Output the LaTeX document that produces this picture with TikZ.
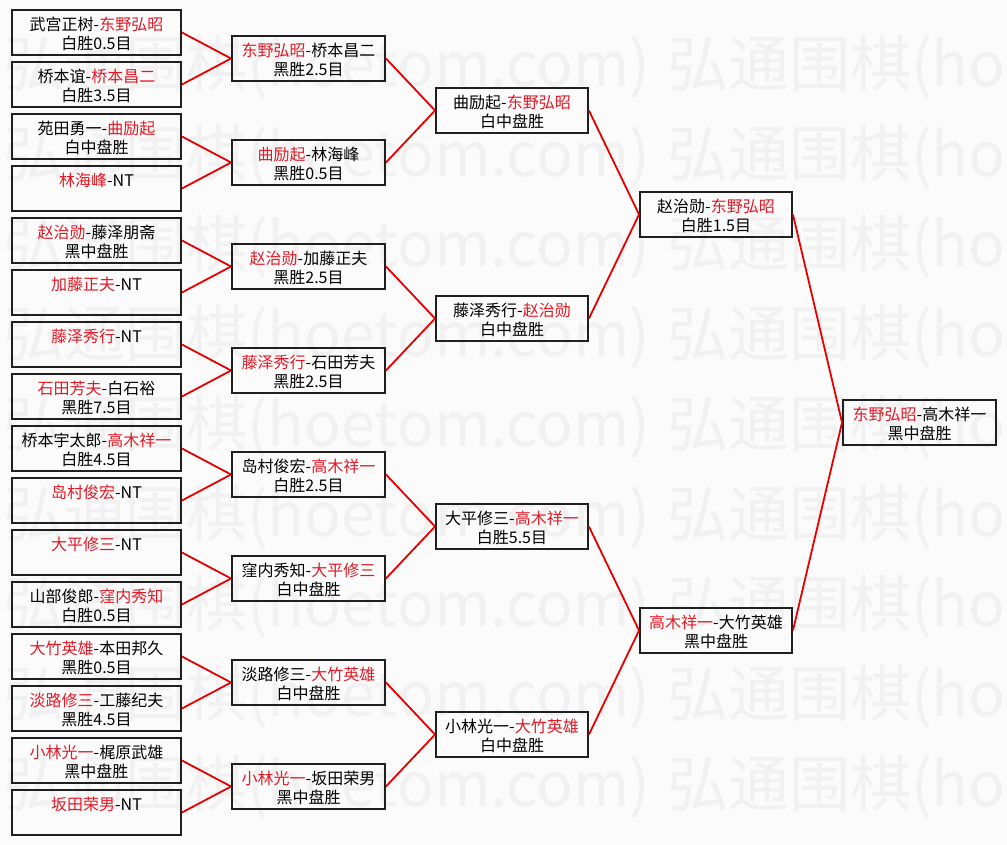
\documentclass[tikz,border=0pt]{standalone}
\usepackage{fontspec}
\setmainfont{Noto Sans CJK SC}
\definecolor{win}{RGB}{226,26,38}
\definecolor{conn}{RGB}{232,0,0}
\definecolor{wmark}{RGB}{241,241,241}
\definecolor{bg}{RGB}{251,251,251}
\newcommand\W[1]{\textcolor{win}{#1}}
\newcommand\two[2]{\rule{0pt}{20.5pt}#1\\\strut#2}
\tikzset{
  box/.style={draw=black!88, line width=1.9pt, rectangle, minimum height=45pt,
    inner sep=0pt, align=center, font=\fontsize{16}{18.5}\selectfont},
  colA/.style={box, minimum width=169pt},
  colB/.style={box, minimum width=153pt},
  colC/.style={box, minimum width=152pt},
  colD/.style={box, minimum width=152pt},
  colE/.style={box, minimum width=153pt},
  link/.style={draw=conn, line width=1.8pt},
  wm/.style={anchor=west, text=wmark, font=\fontsize{61}{61}\selectfont, inner sep=0pt},
}
\begin{document}
\begin{tikzpicture}[x=1pt,y=-1pt]
\useasboundingbox (0,0) rectangle (1007,845);
\fill[bg] (0,0) rectangle (1007,845);
\begin{scope}
  \clip (0,0) rectangle (1007,845);
  \foreach \r in {0,...,8} {
    \node[wm] (wmA\r) at (3,67+90*\r) {弘通围棋(hoetom.com)};
    \node[wm] (wmB\r) at (667,67+90*\r) {弘通围棋(hoetom.com)};
  }
\end{scope}
% round 1
\node[colA] (a1)  at (96.5,32.5)  {\two{武宫正树-\W{东野弘昭}}{白胜0.5目}};
\node[colA] (a2)  at (96.5,84.5)  {\two{桥本谊-\W{桥本昌二}}{白胜3.5目}};
\node[colA] (a3)  at (96.5,136.5) {\two{苑田勇一-\W{曲励起}}{白中盘胜}};
\node[colA] (a4)  at (96.5,188.5) {\two{\W{林海峰}-NT}{}};
\node[colA] (a5)  at (96.5,240.5) {\two{\W{赵治勋}-藤泽朋斋}{黑中盘胜}};
\node[colA] (a6)  at (96.5,292.5) {\two{\W{加藤正夫}-NT}{}};
\node[colA] (a7)  at (96.5,344.5) {\two{\W{藤泽秀行}-NT}{}};
\node[colA] (a8)  at (96.5,396.5) {\two{\W{石田芳夫}-白石裕}{黑胜7.5目}};
\node[colA] (a9)  at (96.5,448.5) {\two{桥本宇太郎-\W{高木祥一}}{白胜4.5目}};
\node[colA] (a10) at (96.5,500.5) {\two{\W{岛村俊宏}-NT}{}};
\node[colA] (a11) at (96.5,552.5) {\two{\W{大平修三}-NT}{}};
\node[colA] (a12) at (96.5,604.5) {\two{山部俊郎-\W{窪内秀知}}{白胜0.5目}};
\node[colA] (a13) at (96.5,656.5) {\two{\W{大竹英雄}-本田邦久}{黑胜0.5目}};
\node[colA] (a14) at (96.5,708.5) {\two{\W{淡路修三}-工藤纪夫}{黑胜4.5目}};
\node[colA] (a15) at (96.5,760.5) {\two{\W{小林光一}-梶原武雄}{黑中盘胜}};
\node[colA] (a16) at (96.5,812.5) {\two{\W{坂田荣男}-NT}{}};
% round 2
\node[colB] (b1) at (308.5,58.5)  {\two{\W{东野弘昭}-桥本昌二}{黑胜2.5目}};
\node[colB] (b2) at (308.5,162.5) {\two{\W{曲励起}-林海峰}{黑胜0.5目}};
\node[colB] (b3) at (308.5,266.5) {\two{\W{赵治勋}-加藤正夫}{黑胜2.5目}};
\node[colB] (b4) at (308.5,370.5) {\two{\W{藤泽秀行}-石田芳夫}{黑胜2.5目}};
\node[colB] (b5) at (308.5,474.5) {\two{岛村俊宏-\W{高木祥一}}{白胜2.5目}};
\node[colB] (b6) at (308.5,578.5) {\two{窪内秀知-\W{大平修三}}{白中盘胜}};
\node[colB] (b7) at (308.5,682.5) {\two{淡路修三-\W{大竹英雄}}{白中盘胜}};
\node[colB] (b8) at (308.5,786.5) {\two{\W{小林光一}-坂田荣男}{黑中盘胜}};
% round 3
\node[colC] (c1) at (512,110.5) {\two{曲励起-\W{东野弘昭}}{白中盘胜}};
\node[colC] (c2) at (512,318.5) {\two{藤泽秀行-\W{赵治勋}}{白中盘胜}};
\node[colC] (c3) at (512,526.5) {\two{大平修三-\W{高木祥一}}{白胜5.5目}};
\node[colC] (c4) at (512,734.5) {\two{小林光一-\W{大竹英雄}}{白中盘胜}};
% round 4
\node[colD] (d1) at (716,214.5) {\two{赵治勋-\W{东野弘昭}}{白胜1.5目}};
\node[colD] (d2) at (716,630.5) {\two{\W{高木祥一}-大竹英雄}{黑中盘胜}};
% final
\node[colE] (e1) at (919.5,422.5) {\two{\W{东野弘昭}-高木祥一}{黑中盘胜}};
% connectors
\foreach \p/\c in {1/1,2/1,3/2,4/2,5/3,6/3,7/4,8/4,9/5,10/5,11/6,12/6,13/7,14/7,15/8,16/8}
  \draw[link] (a\p.east) -- (b\c.west);
\foreach \p/\c in {1/1,2/1,3/2,4/2,5/3,6/3,7/4,8/4}
  \draw[link] (b\p.east) -- (c\c.west);
\foreach \p/\c in {1/1,2/1,3/2,4/2}
  \draw[link] (c\p.east) -- (d\c.west);
\foreach \p in {1,2}
  \draw[link] (d\p.east) -- (e1.west);
\end{tikzpicture}
\end{document}
